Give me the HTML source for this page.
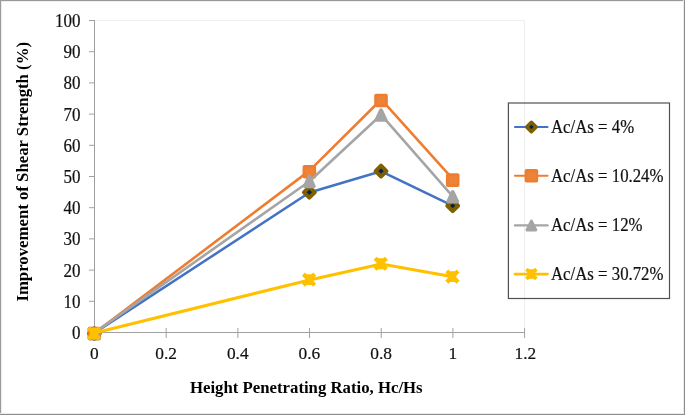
<!DOCTYPE html>
<html lang="en"><head><meta charset="utf-8"><title>Improvement of Shear Strength</title>
<style>
html,body{margin:0;padding:0;background:#fff;}
body{width:685px;height:415px;overflow:hidden;}
svg{display:block;}
text{font-family:"Liberation Serif","Times New Roman",serif;font-size:17px;fill:#111;stroke:#111;stroke-width:0.2px;}
.b{font-weight:bold;fill:#000;font-size:16.75px;stroke:none;}
</style></head><body>
<svg width="685" height="415" viewBox="0 0 685 415">
<rect x="0" y="0" width="685" height="415" fill="#fff"/>

<path d="M94.5,20.5 H524.5 V332.5" fill="none" stroke="#eeeeee" stroke-width="1"/>
<path d="M94.5,20 V333 M89,332.50 H94.5 M89,301.30 H94.5 M89,270.10 H94.5 M89,238.90 H94.5 M89,207.70 H94.5 M89,176.50 H94.5 M89,145.30 H94.5 M89,114.10 H94.5 M89,82.90 H94.5 M89,51.70 H94.5 M89,20.50 H94.5 M94,332.5 H525 M94.50,328 V338 M166.18,328 V338 M237.86,328 V338 M309.54,328 V338 M381.22,328 V338 M452.90,328 V338 M524.58,328 V338" fill="none" stroke="#a0a0a0" stroke-width="1"/>
<text transform="translate(80.4,338.90) scale(1,1.06)" text-anchor="end">0</text>
<text transform="translate(80.4,307.70) scale(1,1.06)" text-anchor="end">10</text>
<text transform="translate(80.4,276.50) scale(1,1.06)" text-anchor="end">20</text>
<text transform="translate(80.4,245.30) scale(1,1.06)" text-anchor="end">30</text>
<text transform="translate(80.4,214.10) scale(1,1.06)" text-anchor="end">40</text>
<text transform="translate(80.4,182.90) scale(1,1.06)" text-anchor="end">50</text>
<text transform="translate(80.4,151.70) scale(1,1.06)" text-anchor="end">60</text>
<text transform="translate(80.4,120.50) scale(1,1.06)" text-anchor="end">70</text>
<text transform="translate(80.4,89.30) scale(1,1.06)" text-anchor="end">80</text>
<text transform="translate(80.4,58.10) scale(1,1.06)" text-anchor="end">90</text>
<text transform="translate(80.4,26.90) scale(1,1.06)" text-anchor="end">100</text>
<text transform="translate(94.40,358.6) scale(1.02,1.045)" text-anchor="middle">0</text>
<text transform="translate(166.08,358.6) scale(1.02,1.045)" text-anchor="middle">0.2</text>
<text transform="translate(237.76,358.6) scale(1.02,1.045)" text-anchor="middle">0.4</text>
<text transform="translate(309.44,358.6) scale(1.02,1.045)" text-anchor="middle">0.6</text>
<text transform="translate(381.12,358.6) scale(1.02,1.045)" text-anchor="middle">0.8</text>
<text transform="translate(452.80,358.6) scale(1.02,1.045)" text-anchor="middle">1</text>
<text transform="translate(525.38,358.6) scale(1.02,1.045)" text-anchor="middle">1.2</text>
<text class="b" x="190" y="393.3">Height Penetrating Ratio, Hc/Hs</text>
<text class="b" transform="translate(27.7,301.6) rotate(-90)">Improvement of Shear Strength (%)</text>
<polyline points="94.50,332.90 309.54,192.50 381.22,171.28 452.90,205.92" fill="none" stroke="#4472C4" stroke-width="2.5" stroke-linejoin="round" stroke-linecap="round"/>
<path transform="translate(94.30,333.50) scale(1.0)" d="M0,-5.4 L5.4,0 L0,5.4 L-5.4,0 Z" fill="#002060" stroke="#7F6000" stroke-width="4" stroke-linejoin="round"/>
<path transform="translate(309.34,192.30) scale(1.0)" d="M0,-5.4 L5.4,0 L0,5.4 L-5.4,0 Z" fill="#002060" stroke="#7F6000" stroke-width="4" stroke-linejoin="round"/>
<path transform="translate(381.02,171.08) scale(1.0)" d="M0,-5.4 L5.4,0 L0,5.4 L-5.4,0 Z" fill="#002060" stroke="#7F6000" stroke-width="4" stroke-linejoin="round"/>
<path transform="translate(452.70,205.72) scale(1.0)" d="M0,-5.4 L5.4,0 L0,5.4 L-5.4,0 Z" fill="#002060" stroke="#7F6000" stroke-width="4" stroke-linejoin="round"/>
<polyline points="94.50,333.10 309.54,170.61 381.22,99.47 452.90,179.03" fill="none" stroke="#ED7D31" stroke-width="2.6" stroke-linejoin="round" stroke-linecap="round"/>
<g transform="translate(94.30,333.50) scale(1.0)"><rect x="-4.8" y="-4.8" width="9.6" height="9.6" fill="#ED7D31" stroke="#ED7D31" stroke-width="4" stroke-linejoin="round"/><rect x="-4.2" y="-4.2" width="8.4" height="8.4" fill="#EE8237"/></g>
<g transform="translate(309.34,171.71) scale(1.0)"><rect x="-4.8" y="-4.8" width="9.6" height="9.6" fill="#ED7D31" stroke="#ED7D31" stroke-width="4" stroke-linejoin="round"/><rect x="-4.2" y="-4.2" width="8.4" height="8.4" fill="#EE8237"/></g>
<g transform="translate(381.02,100.57) scale(1.0)"><rect x="-4.8" y="-4.8" width="9.6" height="9.6" fill="#ED7D31" stroke="#ED7D31" stroke-width="4" stroke-linejoin="round"/><rect x="-4.2" y="-4.2" width="8.4" height="8.4" fill="#EE8237"/></g>
<g transform="translate(452.70,180.13) scale(1.0)"><rect x="-4.8" y="-4.8" width="9.6" height="9.6" fill="#ED7D31" stroke="#ED7D31" stroke-width="4" stroke-linejoin="round"/><rect x="-4.2" y="-4.2" width="8.4" height="8.4" fill="#EE8237"/></g>
<polyline points="94.50,332.60 309.54,181.28 381.22,114.82 452.90,196.57" fill="none" stroke="#A5A5A5" stroke-width="2.6" stroke-linejoin="round" stroke-linecap="round"/>
<path transform="translate(94.30,333.50) scale(1.0)" d="M0,-4.7 L4.4,4.9 L-4.4,4.9 Z" fill="#A5A5A5" stroke="#A5A5A5" stroke-width="4" stroke-linejoin="round"/>
<path transform="translate(309.34,181.38) scale(1.0)" d="M0,-4.7 L4.4,4.9 L-4.4,4.9 Z" fill="#A5A5A5" stroke="#A5A5A5" stroke-width="4" stroke-linejoin="round"/>
<path transform="translate(381.02,114.92) scale(1.0)" d="M0,-4.7 L4.4,4.9 L-4.4,4.9 Z" fill="#A5A5A5" stroke="#A5A5A5" stroke-width="4" stroke-linejoin="round"/>
<path transform="translate(452.70,196.67) scale(1.0)" d="M0,-4.7 L4.4,4.9 L-4.4,4.9 Z" fill="#A5A5A5" stroke="#A5A5A5" stroke-width="4" stroke-linejoin="round"/>
<polyline points="94.50,333.00 309.54,279.96 381.22,264.05 452.90,276.84" fill="none" stroke="#FFC000" stroke-width="3.0" stroke-linejoin="round" stroke-linecap="round"/>
<path transform="translate(94.00,333.50) scale(1.0)" d="M-7.1,-4.0 L-4.2,-7.1 L-2.4,-5.4 L2.4,-5.4 L4.2,-7.1 L7.1,-4.0 L4.0,-1.0 L4.0,1.0 L7.1,4.0 L4.2,7.1 L2.4,5.4 L-2.4,5.4 L-4.2,7.1 L-7.1,4.0 L-4.0,1.0 L-4.0,-1.0 Z" fill="#FFC000"/>
<path transform="translate(309.04,279.66) scale(1.0)" d="M-7.1,-4.0 L-4.2,-7.1 L-2.4,-5.4 L2.4,-5.4 L4.2,-7.1 L7.1,-4.0 L4.0,-1.0 L4.0,1.0 L7.1,4.0 L4.2,7.1 L2.4,5.4 L-2.4,5.4 L-4.2,7.1 L-7.1,4.0 L-4.0,1.0 L-4.0,-1.0 Z" fill="#FFC000"/>
<path transform="translate(380.72,263.75) scale(1.0)" d="M-7.1,-4.0 L-4.2,-7.1 L-2.4,-5.4 L2.4,-5.4 L4.2,-7.1 L7.1,-4.0 L4.0,-1.0 L4.0,1.0 L7.1,4.0 L4.2,7.1 L2.4,5.4 L-2.4,5.4 L-4.2,7.1 L-7.1,4.0 L-4.0,1.0 L-4.0,-1.0 Z" fill="#FFC000"/>
<path transform="translate(452.40,276.54) scale(1.0)" d="M-7.1,-4.0 L-4.2,-7.1 L-2.4,-5.4 L2.4,-5.4 L4.2,-7.1 L7.1,-4.0 L4.0,-1.0 L4.0,1.0 L7.1,4.0 L4.2,7.1 L2.4,5.4 L-2.4,5.4 L-4.2,7.1 L-7.1,4.0 L-4.0,1.0 L-4.0,-1.0 Z" fill="#FFC000"/>
<rect x="508.4" y="103" width="161.1" height="195.5" fill="none" stroke="#505050" stroke-width="1.2"/>
<line x1="515" y1="127" x2="547.5" y2="127" stroke="#4472C4" stroke-width="2.1" stroke-linecap="round"/>
<path transform="translate(531.40,127.00) scale(0.88)" d="M0,-5.4 L5.4,0 L0,5.4 L-5.4,0 Z" fill="#002060" stroke="#7F6000" stroke-width="4" stroke-linejoin="round"/>
<text transform="translate(551,132.7) scale(0.988,1.06)">Ac/As = 4%</text>
<line x1="515" y1="175.8" x2="547.5" y2="175.8" stroke="#ED7D31" stroke-width="2.1" stroke-linecap="round"/>
<g transform="translate(531.40,175.80) scale(1.0)"><rect x="-4.8" y="-4.8" width="9.6" height="9.6" fill="#ED7D31" stroke="#ED7D31" stroke-width="4" stroke-linejoin="round"/><rect x="-4.2" y="-4.2" width="8.4" height="8.4" fill="#EE8237"/></g>
<text transform="translate(551,181.5) scale(0.988,1.06)">Ac/As = 10.24%</text>
<line x1="515" y1="225.4" x2="547.5" y2="225.4" stroke="#A5A5A5" stroke-width="2.4" stroke-linecap="round"/>
<path transform="translate(531.40,225.40) scale(1.0)" d="M0,-4.3 L4.4,4.5 L-4.4,4.5 Z" fill="#A5A5A5" stroke="#A5A5A5" stroke-width="3" stroke-linejoin="round"/>
<text transform="translate(551,231.1) scale(0.988,1.06)">Ac/As = 12%</text>
<line x1="515" y1="274.1" x2="547.5" y2="274.1" stroke="#FFC000" stroke-width="2.7" stroke-linecap="round"/>
<path transform="translate(531.40,274.10) scale(0.88)" d="M-7.1,-4.0 L-4.2,-7.1 L-2.4,-5.4 L2.4,-5.4 L4.2,-7.1 L7.1,-4.0 L4.0,-1.0 L4.0,1.0 L7.1,4.0 L4.2,7.1 L2.4,5.4 L-2.4,5.4 L-4.2,7.1 L-7.1,4.0 L-4.0,1.0 L-4.0,-1.0 Z" fill="#FFC000"/>
<text transform="translate(551,279.8) scale(0.988,1.06)">Ac/As = 30.72%</text>
<rect x="0" y="0" width="685" height="1" fill="#9a9a9a"/><rect x="0" y="0" width="1" height="415" fill="#9a9a9a"/>
<rect x="1" y="1" width="684" height="0.5" fill="#dcdcdc"/><rect x="1" y="1" width="0.5" height="414" fill="#dcdcdc"/>
<rect x="683" y="0" width="1" height="415" fill="#ebebeb"/><rect x="0" y="413" width="685" height="1" fill="#ebebeb"/>
<rect x="684" y="0" width="1" height="415" fill="#8c8c8c"/><rect x="0" y="414" width="685" height="1" fill="#8c8c8c"/>
</svg></body></html>
